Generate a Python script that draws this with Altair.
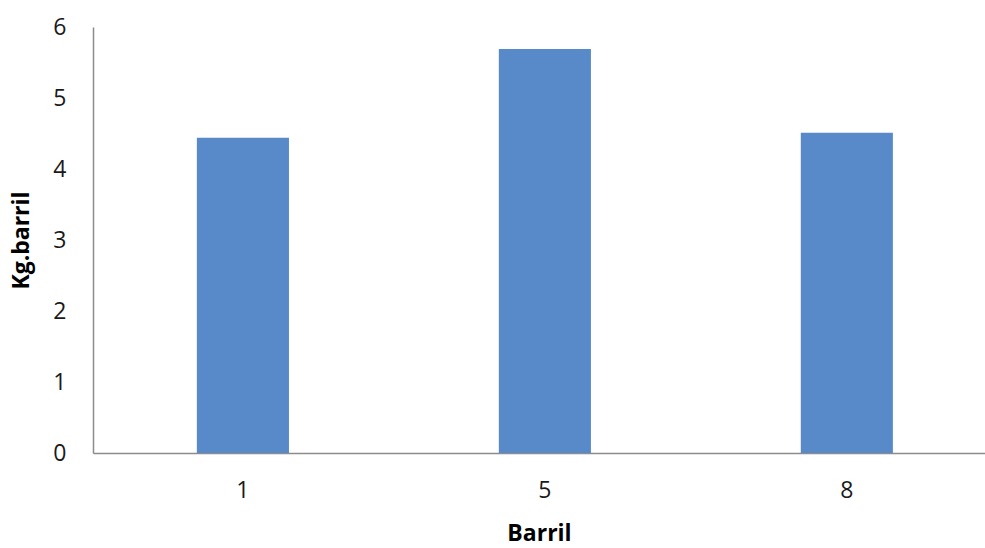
import altair as alt
import pandas as pd

# Barrel numbers and measured kilograms per barrel
barrels = ["1", "5", "8"]
kg_per_barrel = [4.44, 5.69, 4.51]

df = pd.DataFrame({"Barril": barrels, "Kg": kg_per_barrel})

FONT = "Open Sans"
BAR_COLOR = "#5889C9"
AXIS_GRAY = "#8C8C8C"
LABEL_SIZE = 23
TITLE_SIZE = 23

bars = alt.Chart(df).mark_bar(color=BAR_COLOR).encode(
    x=alt.X(
        "Barril:N",
        sort=barrels,
        title="Barril",
        scale=alt.Scale(paddingInner=0.695, paddingOuter=0.3245, align=0.53),
        axis=alt.Axis(
            labelAngle=0,
            labelFontSize=LABEL_SIZE,
            labelFont=FONT,
            labelColor="#1a1a1a",
            labelPadding=26,
            ticks=False,
            domainColor=AXIS_GRAY,
            domainWidth=1.5,
            titleFont=FONT,
            titleFontSize=TITLE_SIZE,
            titleFontWeight="bold",
            titleColor="#000000",
            titlePadding=20,
        ),
    ),
    y=alt.Y(
        "Kg:Q",
        title="Kg.barril",
        scale=alt.Scale(domain=[0, 6], nice=False),
        axis=alt.Axis(
            values=[0, 1, 2, 3, 4, 5, 6],
            labelFontSize=LABEL_SIZE,
            labelFont=FONT,
            labelColor="#1a1a1a",
            labelPadding=27,
            ticks=False,
            grid=False,
            domainColor=AXIS_GRAY,
            domainWidth=1.5,
            titleFont=FONT,
            titleFontSize=TITLE_SIZE,
            titleFontWeight="bold",
            titleColor="#000000",
            titlePadding=19,
        ),
    ),
)

chart = bars.properties(
    width=892,
    height=426,
    background="white",
    autosize=alt.AutoSizeParams(type="none"),
    padding={"left": 93, "top": 27, "right": 0, "bottom": 95},
).configure_view(stroke=None)

chart.save("out.html", embed_options={"renderer": "svg", "actions": False})
